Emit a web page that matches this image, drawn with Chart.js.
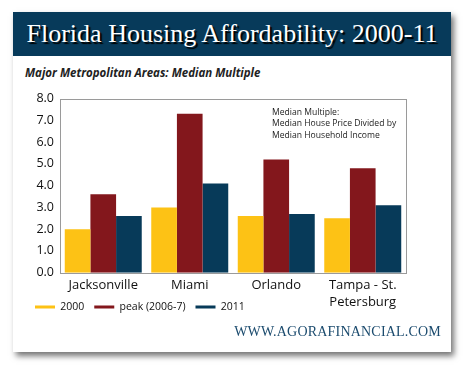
<!DOCTYPE html>
<html>
<head>
<meta charset="utf-8">
<script src="https://cdn.jsdelivr.net/npm/chart.js@4"></script>
<style>
  body { margin: 0; background: #fff; width: 470px; height: 372px; position: relative; overflow: hidden; }
  .card { position: absolute; left: 13px; top: 12px; width: 438px; height: 340px; background: #fff;
          box-shadow: 3px 4px 6px rgba(0,0,0,0.55); }
  .head { height: 44px; background: #073a5a; color: #fff; font-family: "Liberation Serif", serif;
          font-size: 26px; line-height: 44px; text-align: center; text-shadow: 2px 2px 1px #000; white-space: nowrap; }
  .sub { position: absolute; left: 12px; top: 53px; font-family: "Open Sans", sans-serif; font-weight: 700;
         font-style: italic; font-size: 11.5px; color: #222; }
  .wrap { position: absolute; left: 0; top: 73px; width: 438px; height: 260px; }
  .foot { position: absolute; right: 10px; top: 312px; font-family: "Liberation Serif", serif; font-size: 14px;
          color: #1b4b6e; letter-spacing: 0.2px; }
</style>
</head>
<body>
<div class="card">
  <div class="head">Florida Housing Affordability: 2000-11</div>
  <div class="sub">Major Metropolitan Areas: Median Multiple</div>
  <div class="wrap"><canvas id="chart" width="438" height="260"></canvas></div>
  <div class="foot">WWW.AGORAFINANCIAL.COM</div>
</div>
<script>
const cities = ['Jacksonville', 'Miami', 'Orlando', ['Tampa - St.', 'Petersburg']];
const y2000 = [2.0, 3.0, 2.6, 2.5];
const peak = [3.6, 7.3, 5.2, 4.8];
const y2011 = [2.6, 4.1, 2.7, 3.1];
const seriesNames = ['2000', 'peak (2006-7)', '2011'];
const note = ['Median Multiple:', 'Median House Price Divided by', 'Median Household Income'];

// legend sits just under the first line of category labels, like the original
const legendUp = {
  id: 'legendUp',
  afterLayout(chart) {
    const l = chart.legend;
    const d = l.top - (chart.chartArea.bottom + 19);
    l.top -= d;
    l.bottom -= d;
  }
};

const frame = {
  id: 'frame',
  afterDraw(chart) {
    const ctx = chart.ctx, a = chart.chartArea;
    ctx.save();
    ctx.strokeStyle = '#9a9a9a';
    ctx.lineWidth = 1;
    ctx.strokeRect(Math.round(a.left) + 0.5, Math.round(a.top) + 0.5, Math.round(a.right - a.left), Math.round(a.bottom - a.top));
    ctx.fillStyle = '#222';
    ctx.font = '8.6px "Open Sans"';
    ctx.textBaseline = 'middle';
    note.forEach((t, i) => ctx.fillText(t, a.left + 212, a.top + 14 + i * 11.5));
    ctx.restore();
  }
};

new Chart(document.getElementById('chart'), {
  type: 'bar',
  data: {
    labels: cities,
    datasets: [
      { label: seriesNames[0], data: y2000, backgroundColor: '#fdc215' },
      { label: seriesNames[1], data: peak, backgroundColor: '#83171c' },
      { label: seriesNames[2], data: y2011, backgroundColor: '#073a59' }
    ]
  },
  options: {
    responsive: false,
    animation: false,
    layout: { padding: { left: 12, right: 45, top: 10, bottom: 0 } },
    datasets: { bar: { categoryPercentage: 0.89, barPercentage: 1.0, borderWidth: 0 } },
    scales: {
      x: {
        grid: { display: false, drawTicks: false },
        border: { display: false },
        ticks: { color: '#111', padding: 4, font: { family: 'Open Sans', size: 13, lineHeight: 1.3 } }
      },
      y: {
        min: 0, max: 8,
        grid: { display: false, drawTicks: false },
        border: { display: false },
        ticks: { stepSize: 1, color: '#111', padding: 6, font: { family: 'Open Sans', size: 12.5 },
                 callback: v => v.toFixed(1) },
        afterFit(s) { s.width = 35; }
      }
    },
    plugins: {
      legend: {
        position: 'bottom', align: 'start',
        labels: { boxWidth: 20, boxHeight: 3, padding: 10, color: '#111',
                  font: { family: 'Open Sans', size: 10.5 } }
      },
      tooltip: { enabled: false }
    }
  },
  plugins: [frame, legendUp]
});
</script>
</body>
</html>
